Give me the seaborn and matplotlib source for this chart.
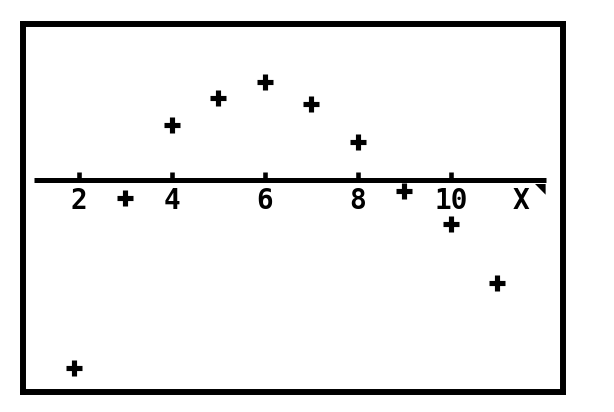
import matplotlib
matplotlib.use("Agg")
import matplotlib.pyplot as plt
import seaborn as sns
import pandas as pd

# дані, зчитані з екрана калькулятора
x_vals = [1.9, 3, 4, 5, 6, 7, 8, 9, 10, 11]
y_vals = [-18.8, -1.8, 5.4, 8.1, 9.7, 7.5, 3.8, -1.1, -4.4, -10.3]
tick_vals = [2, 4, 6, 8, 10]
tick_labels = ["2", "4", "6", "8", "10"]
axis_name = "X"

# вікно калькулятора
x_min, x_max = 1.03, 12.04

df = pd.DataFrame({"x": x_vals, "y": y_vals})

sns.set_theme(style="white")
plt.rcParams["font.family"] = ["DejaVu Sans Mono", "DejaVu Sans"]

fig = plt.figure(figsize=(6.14, 4.12), dpi=100)
ax = fig.add_axes([23 / 614, 1 - 392 / 412, 540 / 614, 368 / 412])

# вісь X та поділки
ax.hlines(0, x_min, x_max, color="black", linewidth=3.6, zorder=1)
ax.vlines(tick_vals, 0, 0.8, color="black", linewidth=3.3, zorder=1)

sns.scatterplot(data=df, x="x", y="y", ax=ax, marker="+", s=130,
                color="black", linewidth=3.7, zorder=3)

for v, lab in zip(tick_vals, tick_labels):
    ax.text(v, -2.15, lab, ha="center", va="center", fontsize=20,
            fontweight="bold", color="black")
ax.text(11.5, -2.15, axis_name, ha="center", va="center", fontsize=20,
        fontweight="bold", color="black")
ax.text(x_max, -0.2, "◥", ha="right", va="top", fontsize=10,
        color="black", family="DejaVu Sans")

ax.set_xlim(0.796, 12.41)
ax.set_ylim(-21.25, 15.55)
ax.set_xticks([])
ax.set_yticks([])
ax.set_xlabel("")
ax.set_ylabel("")
for sp in ax.spines.values():
    sp.set_visible(True)
    sp.set_color("black")
    sp.set_linewidth(4.3)
    sp.set_capstyle("projecting")

fig.savefig("out.png", dpi=100, facecolor="white")
